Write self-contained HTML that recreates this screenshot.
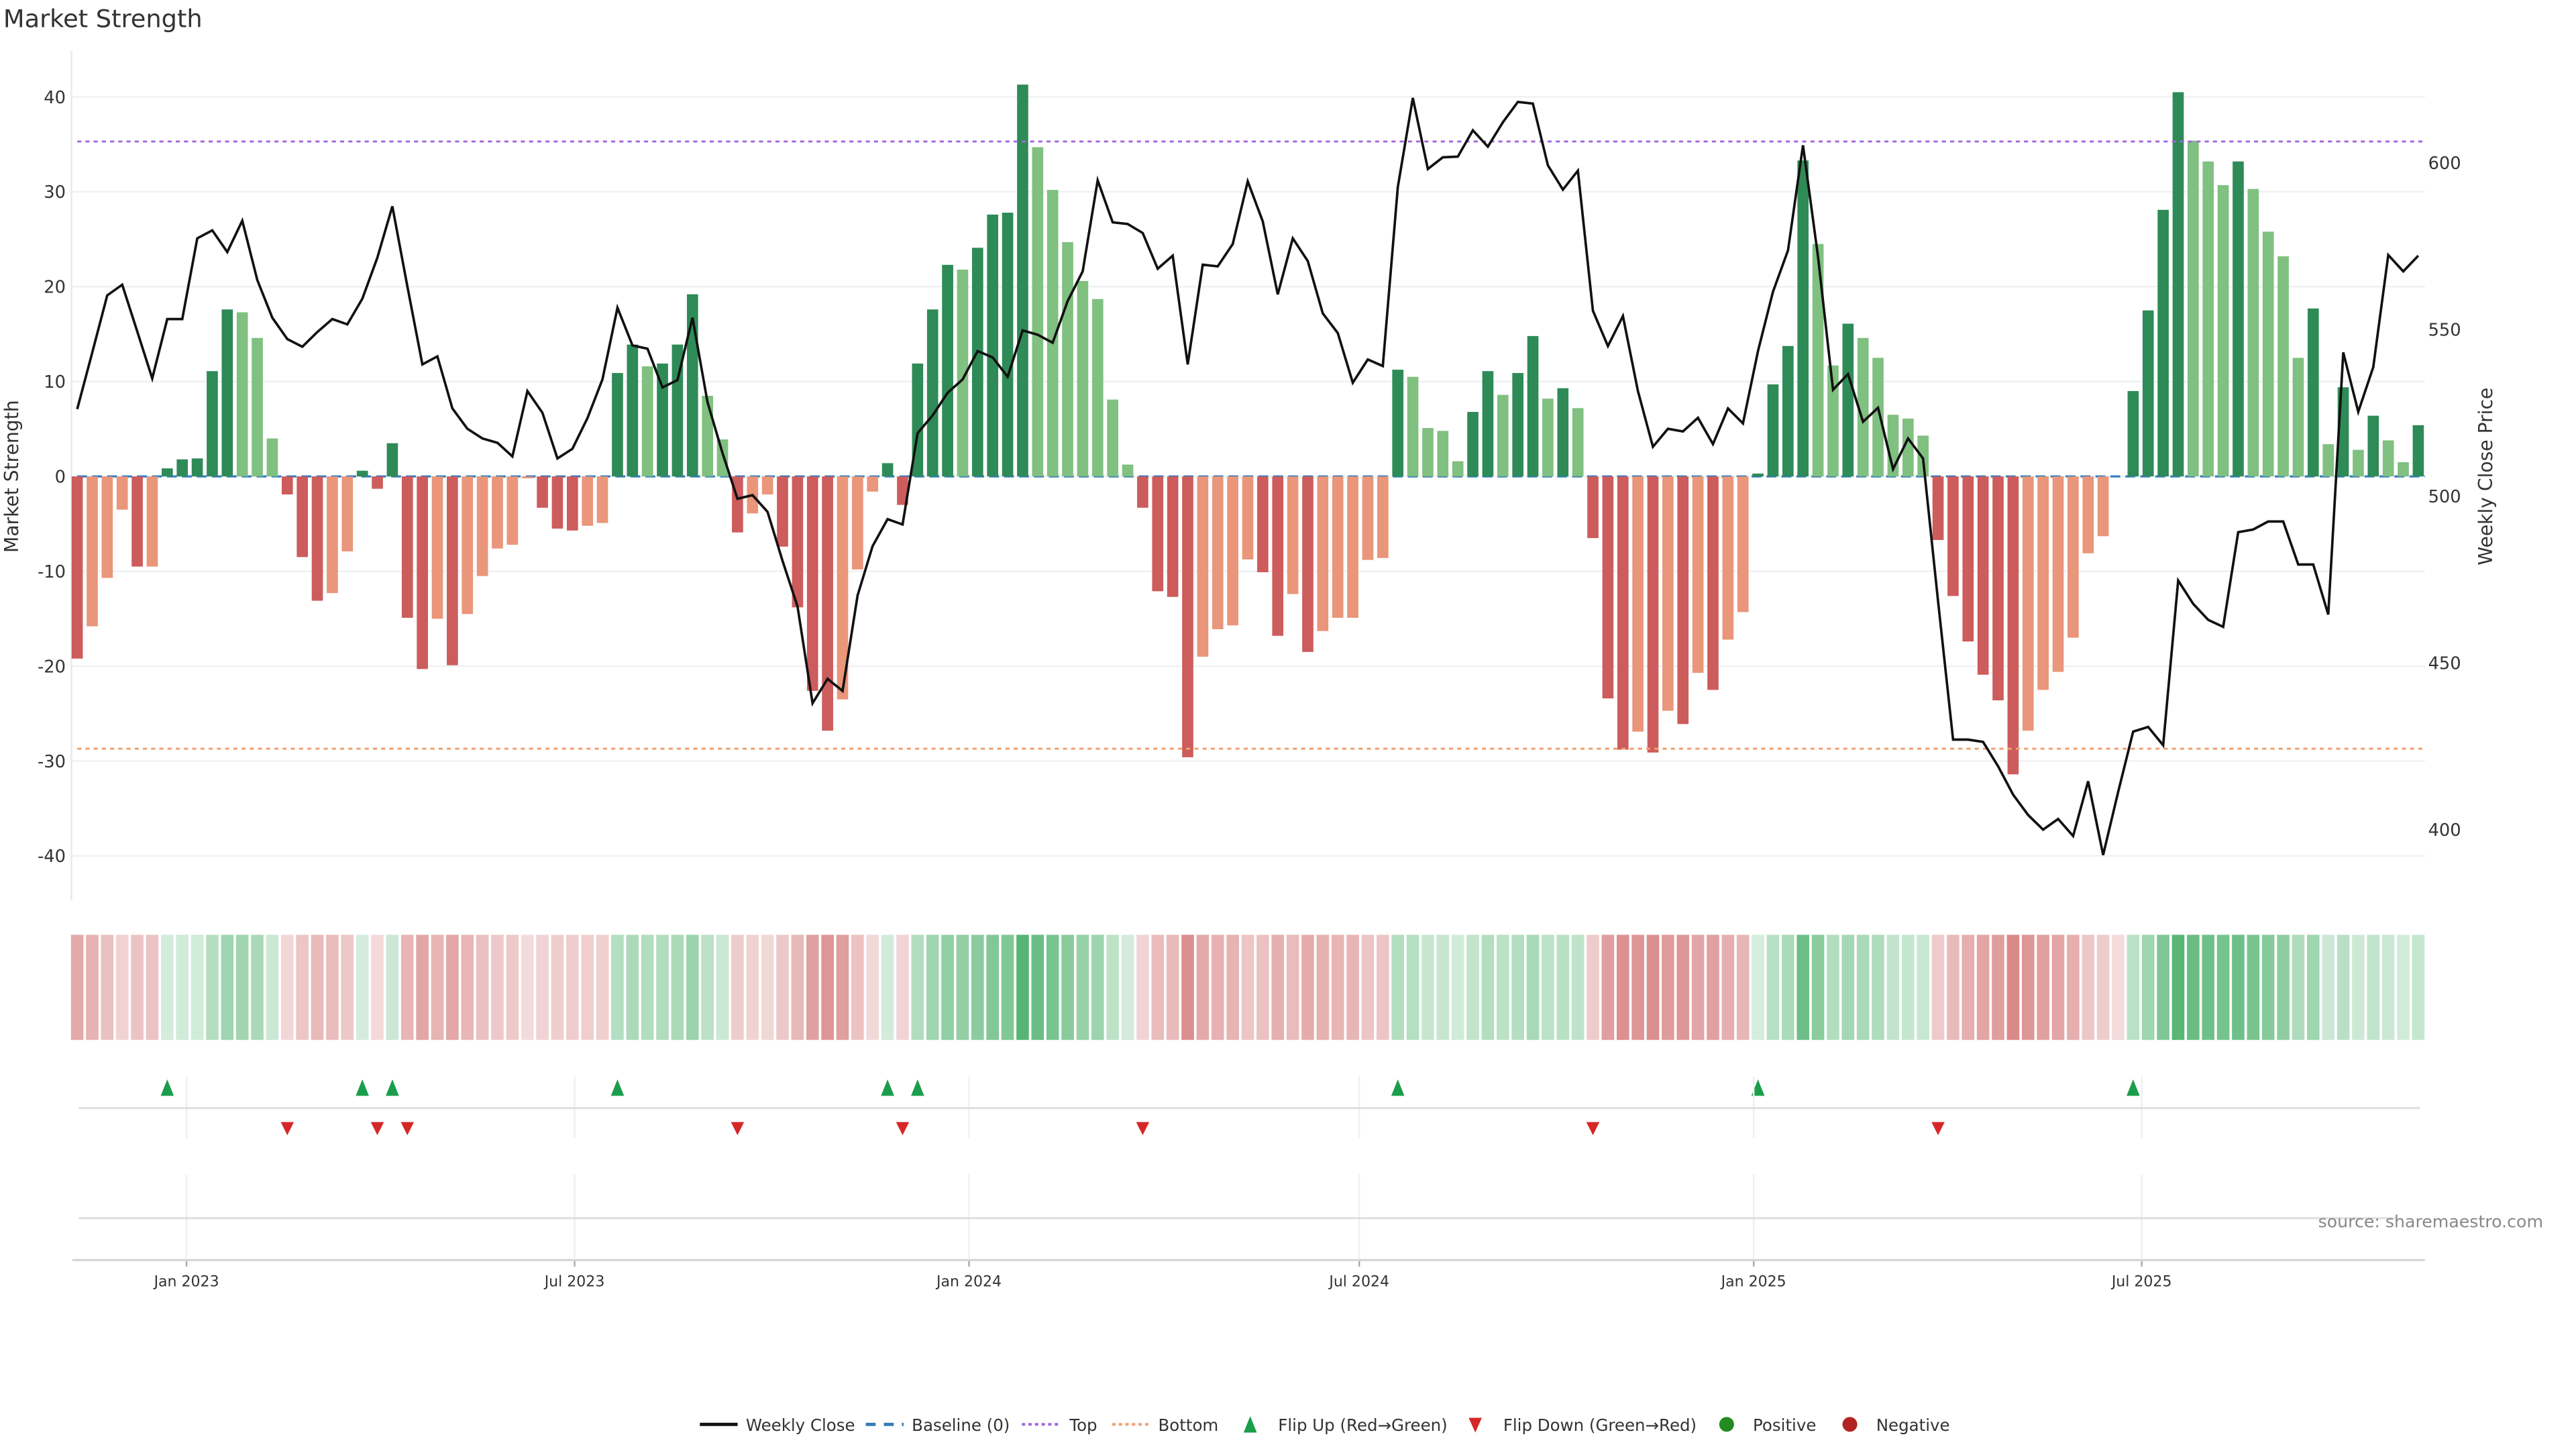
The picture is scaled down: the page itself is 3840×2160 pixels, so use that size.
<!DOCTYPE html>
<html><head><meta charset="utf-8"><style>
html,body{margin:0;padding:0;background:#fff;}
svg{display:block;font-family:"DejaVu Sans","Liberation Sans",sans-serif;}
</style></head><body>
<svg id="chart" xmlns="http://www.w3.org/2000/svg" width="3840" height="2160" viewBox="0 0 1568 882" preserveAspectRatio="none">
<rect x="0" y="0" width="1568" height="882" fill="#fff"/>
<text x="2" y="16.5" font-size="15" fill="#333">Market Strength</text>
<g id="grid"></g>
<g id="main"></g>
<g id="heat"></g>
<g id="flips"></g>
<g id="xaxis"></g>
<text transform="translate(11,290) rotate(-90)" text-anchor="middle" font-size="11.5" fill="#333">Market Strength</text>
<text transform="translate(1517,290) rotate(-90)" text-anchor="middle" font-size="11.5" fill="#333">Weekly Close Price</text>
<text x="1548" y="747" text-anchor="end" font-size="10.3" fill="#888">source: sharemaestro.com</text>
<g id="legend" font-size="10" fill="#333">
  <g><line x1="426" y1="867" x2="449" y2="867" stroke="#111" stroke-width="2"/><text x="454" y="871">Weekly Close</text></g>
  <g><line x1="527" y1="867" x2="550" y2="867" stroke="#3a7ab5" stroke-width="2" stroke-dasharray="6,5"/><text x="555" y="871">Baseline (0)</text></g>
  <g><line x1="622" y1="867" x2="645" y2="867" stroke="#a066e0" stroke-width="1.6" stroke-dasharray="2,2"/><text x="651" y="871">Top</text></g>
  <g><line x1="677" y1="867" x2="700" y2="867" stroke="#f0a070" stroke-width="1.6" stroke-dasharray="2,2"/><text x="705" y="871">Bottom</text></g>
  <g><path d="M757,872 L761,862 L765,872 Z" fill="#1a9e4a"/><text x="778" y="871">Flip Up (Red→Green)</text></g>
  <g><path d="M894,863 L902,863 L898,872 Z" fill="#d62728"/><text x="915" y="871">Flip Down (Green→Red)</text></g>
  <g><circle cx="1051" cy="867" r="4.5" fill="#228b22"/><text x="1067" y="871">Positive</text></g>
  <g><circle cx="1126" cy="867" r="4.5" fill="#b22222"/><text x="1142" y="871">Negative</text></g>
</g>
</svg>
<script>
const strength = [-19.2,-15.8,-10.7,-3.5,-9.5,-9.5,0.85,1.8,1.9,11.1,17.6,17.3,14.6,4.0,-1.9,-8.5,-13.1,-12.3,-7.9,0.6,
-1.3,3.5,-14.9,-20.3,-15.0,-19.9,-14.5,-10.5,-7.6,-7.2,-0.2,-3.3,-5.5,-5.7,-5.2,-4.9,10.9,13.9,11.6,11.9,
13.9,19.2,8.5,3.9,-5.9,-3.9,-1.9,-7.4,-13.8,-22.6,-26.8,-23.5,-9.8,-1.6,1.4,-3.0,11.9,17.6,22.3,21.8,
24.1,27.6,27.8,41.3,34.7,30.2,24.7,20.6,18.7,8.1,1.25,-3.3,-12.1,-12.7,-29.6,-19.0,-16.1,-15.7,-8.75,-10.1,
-16.8,-12.4,-18.5,-16.3,-14.9,-14.9,-8.8,-8.6,11.25,10.5,5.1,4.8,1.6,6.8,11.1,8.6,10.9,14.8,8.2,9.3,
7.2,-6.5,-23.4,-28.8,-26.9,-29.1,-24.7,-26.1,-20.7,-22.5,-17.2,-14.3,0.3,9.7,13.75,33.3,24.5,11.7,16.1,14.6,
12.5,6.5,6.1,4.3,-6.7,-12.6,-17.4,-20.9,-23.6,-31.4,-26.8,-22.5,-20.6,-17.0,-8.1,-6.3,0.0,9.0,17.5,28.1,
40.5,35.4,33.2,30.7,33.2,30.3,25.8,23.2,12.5,17.7,3.4,9.4,2.8,6.4,3.8,1.5,5.4];
// 1 = dark (strengthening), 0 = light (weakening)
const shade = [1,0,0,0,1,0,1,1,1,1,1,0,0,0,1,1,1,0,0,1,
1,1,1,1,0,1,0,0,0,0,0,1,1,1,0,0,1,1,0,1,
1,1,0,0,1,0,0,1,1,1,1,0,0,0,1,1,1,1,1,0,
1,1,1,1,0,0,0,0,0,0,0,1,1,1,1,0,0,0,0,1,
1,0,1,0,0,0,0,0,1,0,0,0,0,1,1,0,1,1,0,1,
0,1,1,1,0,1,0,1,0,1,0,0,1,1,1,1,0,0,1,0,
0,0,0,0,1,1,1,1,1,1,0,0,0,0,0,0,0,1,1,1,
1,0,0,0,1,0,0,0,0,1,0,1,0,1,0,0,1];
const price = [526.1,543,560.2,563.4,549.4,535.3,553.1,553.1,577.3,579.7,573.2,582.6,564.8,553.5,547.1,544.8,549.2,553.1,551.5,559.2,
571.5,586.9,562.9,539.5,541.9,526.3,520.2,517.3,516,511.9,531.5,525,511.3,514.2,523.4,535,556.5,545.2,544.2,532.6,
534.8,553.5,528.2,512.9,499.2,500.3,495.3,480.6,466.9,437.9,445.2,441.6,470.2,485,493.1,491.5,518.9,524.2,531,535,
543.5,541.6,535.8,549.7,548.4,546,558.5,567.4,594.7,582.1,581.6,578.9,568.2,572.1,539.5,569.4,568.9,575.6,594.4,582.4,
560.5,577.3,570.5,554.8,548.9,534,541,539,592.7,619.4,598.1,601.6,601.8,609.7,604.8,612.1,618.2,617.7,599.2,591.9,
597.6,555.6,545,554,531.5,514.8,520.2,519.4,523.5,515.6,526.3,521.8,543.5,561.3,573.7,605.2,571.8,531.9,536.6,522.3,
526.5,508.1,517.3,511.3,468.5,427,427,426.3,419,410.5,404.4,400,403.2,398.1,414.5,392.4,411.3,429.4,430.8,425.3,
474.7,467.7,462.9,460.8,489.2,490,492.4,492.4,479.5,479.5,464.5,543.1,525.3,538.7,572.3,567.4,572.1];
const leftTicks = [40,30,20,10,0,-10,-20,-30,-40];
const rightTicks = [600,550,500,450,400];
const dateTicks = ["2023-01-01","2023-07-01","2024-01-01","2024-07-01","2025-01-01","2025-07-01"];
const dateLabels = ["Jan 2023","Jul 2023","Jan 2024","Jul 2024","Jan 2025","Jul 2025"];
const topLevel = 35.3;
const bottomLevel = -28.7;
const startDate = "2022-11-11";

const NS = "http://www.w3.org/2000/svg";
function mk(parent, tag, attrs){const e=document.createElementNS(NS,tag);for(const k in attrs)e.setAttribute(k,attrs[k]);parent.appendChild(e);return e;}
const X0=47, STEP=(1472-47)/(strength.length-1);
const xw = i => X0 + STEP*i;
const yS = v => 290 - v*5.775;
const yP = p => 302 - (p-500)*101.5/50;
const xDate = d => X0 + STEP*((new Date(d) - new Date(startDate))/86400000/7);

const grid=document.getElementById('grid'), main=document.getElementById('main');
let sp=mk(grid,'line',{x1:43.5,y1:31,x2:43.5,y2:548,stroke:'#e8e8e8','stroke-width':1});
 
leftTicks.forEach(t=>{
  const g=mk(grid,'line',{x1:44,x2:1476,y1:yS(t),y2:yS(t),stroke:'#eef0f3','stroke-width':1});
   
  const tx=mk(grid,'text',{x:40,y:yS(t)+3.8,'text-anchor':'end','font-size':10.5,fill:'#333'});
  tx.textContent=t;
   
});
rightTicks.forEach(t=>{
  const tx=mk(grid,'text',{x:1478,y:yP(t)+3.8,'font-size':10.5,fill:'#333'});
  tx.textContent=t;
   
});
let bl=mk(main,'line',{x1:47,x2:1476,y1:yS(0),y2:yS(0),stroke:'#2f7bbf','stroke-width':1.3,'stroke-dasharray':'6,3.1'});
 
const colors={p1:'#2e8b57',p0:'#80c080',n1:'#cd5c5c',n0:'#e9967a'};
strength.forEach((v,i)=>{
  const key=(v>=0?'p':'n')+shade[i];
  const y1=yS(Math.max(v,0)), y2=yS(Math.min(v,0));
  const r=mk(main,'rect',{x:xw(i)-3.4,y:y1,width:6.8,height:Math.max(y2-y1,0),fill:colors[key]});
   
});
let tl=mk(main,'line',{x1:47,x2:1476,y1:yS(topLevel),y2:yS(topLevel),stroke:'#a066e0','stroke-width':1.2,'stroke-dasharray':'2.5,2.5'});
 
let bt=mk(main,'line',{x1:47,x2:1476,y1:yS(bottomLevel),y2:yS(bottomLevel),stroke:'#f0a070','stroke-width':1.2,'stroke-dasharray':'2.5,2.5'});
 
let pl=mk(main,'polyline',{points:price.map((p,i)=>xw(i).toFixed(2)+','+yP(p).toFixed(2)).join(' '),fill:'none',stroke:'#111','stroke-width':1.5,'stroke-linejoin':'miter'});
 
const heat=document.getElementById('heat');
strength.forEach((v,i)=>{
  const a=0.2+0.62*Math.min(Math.abs(v)/41,1);
  const c=v>0?'rgb(50,165,85)':'rgb(200,80,80)';
  const r=mk(heat,'rect',{x:xw(i)-3.8,y:569,width:7.6,height:64,fill:c,'fill-opacity':a.toFixed(3)});
   
});
const xa=document.getElementById('xaxis');
dateTicks.forEach((d,k)=>{
  const x=xDate(d);
  let v1=mk(xa,'line',{x1:x,x2:x,y1:655,y2:693,stroke:'#f0f0f0','stroke-width':1});
   
  let v2=mk(xa,'line',{x1:x,x2:x,y1:715,y2:766,stroke:'#f0f0f0','stroke-width':1});
   
  let tk=mk(xa,'line',{x1:x,x2:x,y1:767,y2:771,stroke:'#aaa','stroke-width':1});
   
  const tx=mk(xa,'text',{x:x,y:783,'text-anchor':'middle','font-size':9,fill:'#333'});
  tx.textContent=dateLabels[k];
   
});
let l1=mk(xa,'line',{x1:48,x2:1473,y1:674.5,y2:674.5,stroke:'#ddd','stroke-width':1.2});
 
let l2=mk(xa,'line',{x1:48,x2:1458,y1:741.5,y2:741.5,stroke:'#ddd','stroke-width':1.2});
 
let l3=mk(xa,'line',{x1:44,x2:1476,y1:767,y2:767,stroke:'#d6d6d6','stroke-width':1.3});
 
const fl=document.getElementById('flips');
for(let i=1;i<strength.length;i++){
  const a=strength[i-1]>0, b=strength[i]>0, x=xw(i);
  if(!a&&b){
    const t=mk(fl,'path',{d:`M${x-4},667 L${x},657 L${x+4},667 Z`,fill:'#1a9e4a'});
     
  } else if(a&&!b){
    const t=mk(fl,'path',{d:`M${x-4},683 L${x+4},683 L${x},691 Z`,fill:'#d62728'});
     
  }
}
</script>
</body></html>
